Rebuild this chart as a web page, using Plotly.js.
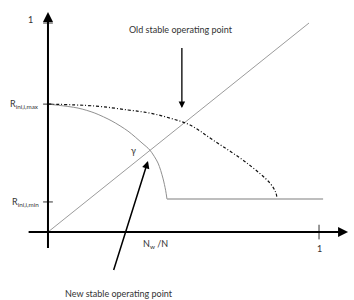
<!DOCTYPE html>
<html><head><meta charset="utf-8">
<script src="https://cdn.plot.ly/plotly-3.0.1.min.js"></script>
<style>html,body{margin:0;padding:0;background:#fff}#chart{width:354px;height:300px}</style>
</head><body><div id="chart"></div>
<script>
// Diagonal (operating line)
const diagX = [0, 0.963];
const diagY = [0, 1];
// New characteristic (solid curve, then flat floor)
const newX = [0, 0.111, 0.173, 0.236, 0.295, 0.347, 0.376, 0.406, 0.424, 0.434, 0.439];
const newY = [0.612, 0.593, 0.569, 0.531, 0.483, 0.426, 0.392, 0.330, 0.258, 0.20, 0.158];
const floorX = [0.439, 1.015];
const floorY = [0.158, 0.158];
// Old characteristic (dash-dot)
const oldX = [0, 0.173, 0.295, 0.376, 0.45, 0.524, 0.609, 0.734, 0.819, 0.84, 0.845];
const oldY = [0.612, 0.603, 0.584, 0.569, 0.545, 0.512, 0.440, 0.330, 0.234, 0.19, 0.163];
// Tick values
const rMax = 0.612;
const rMin = 0.144;
const tickLabels = ['R<sub>ini,i,max</sub>', 'R<sub>ini,i,min</sub>'];

const font = {family: 'Lato, "Open Sans", sans-serif', size: 9, color: '#333'};
const traces = [
  {x: diagX, y: diagY, mode: 'lines', line: {color: '#909090', width: 0.9}, hoverinfo: 'skip'},
  {x: newX, y: newY, mode: 'lines', line: {color: '#909090', width: 1, shape: 'spline', smoothing: 0.8}, hoverinfo: 'skip'},
  {x: floorX, y: floorY, mode: 'lines', line: {color: '#a8a8a8', width: 1.5}, hoverinfo: 'skip'},
  {x: oldX, y: oldY, mode: 'lines', line: {color: '#111', width: 1.2, dash: '3px,2px,1px,2px', shape: 'spline'}, hoverinfo: 'skip'}
];
const tick = (x0, y0, x1, y1) => ({type: 'line', xref: 'x', yref: 'y', x0, y0, x1, y1, line: {color: '#333', width: 1}});
const shapes = [
  tick(-0.018, 1, 0.018, 1),
  tick(-0.018, rMax, 0.018, rMax),
  tick(-0.018, rMin, 0.018, rMin),
  tick(1, -0.035, 1, 0.035)
];
const arrow = (x, y, ax, ay, w) => ({x, y, ax, ay, xref: 'x', yref: 'y', axref: 'x', ayref: 'y', text: ' ', showarrow: true, arrowhead: 2, arrowsize: 1, arrowwidth: w, arrowcolor: '#000', font: {size: 1}});
const label = (x, y, text, xanchor) => ({x, y, xref: 'x', yref: 'y', text, showarrow: false, font, xanchor: xanchor || 'center', yanchor: 'middle'});
const annotations = [
  arrow(1.107, 0, -0.077, 0, 2),
  arrow(0, 1.053, 0, -0.086, 2),
  arrow(0.494, 0.593, 0.494, 0.890, 1.3),
  arrow(0.369, 0.340, 0.240, -0.191, 1.5),
  label(0.491, 0.967, 'Old stable operating point'),
  label(0.262, -0.292, 'New stable operating point'),
  label(0.395, -0.057, 'N<sub>w</sub> /N'),
  label(1.0, -0.081, '1'),
  label(-0.066, 1.019, '1'),
  label(-0.026, rMax, tickLabels[0], 'right'),
  label(-0.026, rMin, tickLabels[1], 'right'),
  label(0.314, 0.392, 'γ')
];
const layout = {
  width: 354, height: 300,
  margin: {l: 0, r: 0, t: 0, b: 0},
  paper_bgcolor: '#fff', plot_bgcolor: '#fff',
  showlegend: false,
  xaxis: {range: [-0.177, 1.129], visible: false, fixedrange: true},
  yaxis: {range: [-0.325, 1.110], visible: false, fixedrange: true},
  shapes, annotations
};
Plotly.newPlot('chart', traces, layout, {staticPlot: true, displayModeBar: false});
</script></body></html>
